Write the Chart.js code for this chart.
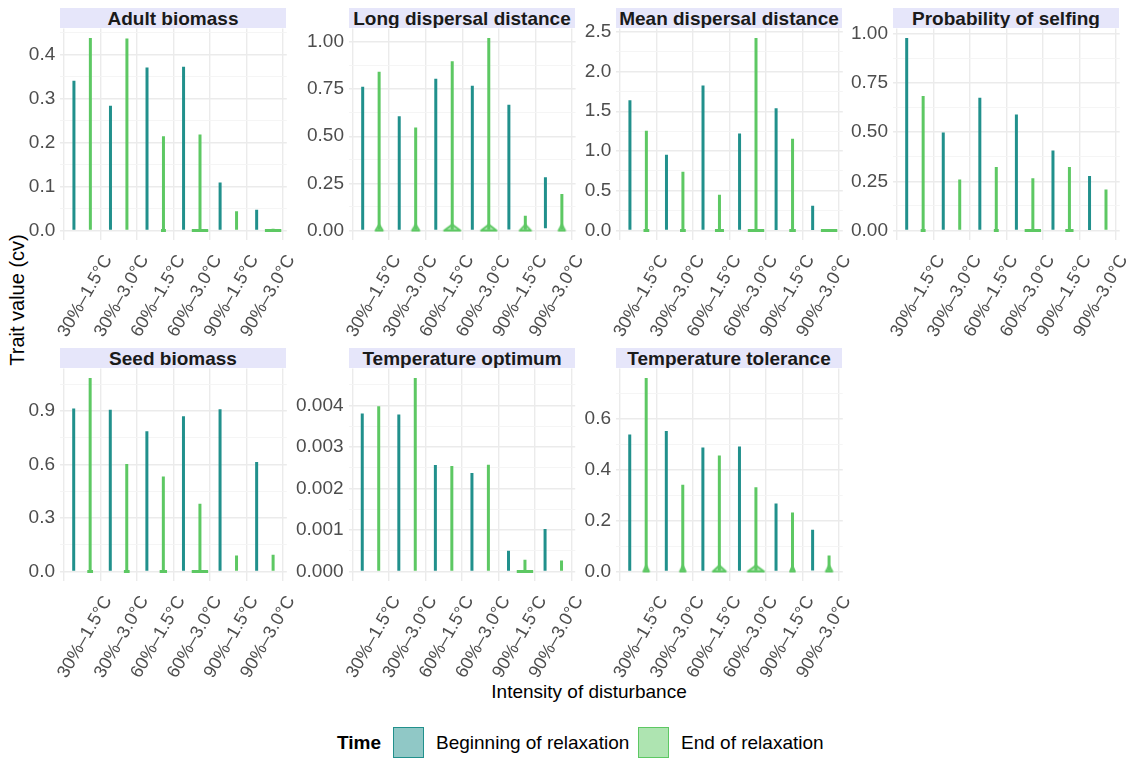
<!DOCTYPE html>
<html>
<head>
<meta charset="utf-8">
<script src="https://cdn.jsdelivr.net/npm/chart.js@4.4.1/dist/chart.umd.min.js"></script>
<style>
  html, body { margin: 0; padding: 0; background: #ffffff; }
  #fig { position: relative; width: 1130px; height: 759px; overflow: hidden;
         font-family: "Liberation Sans", Arial, sans-serif; color: #000; }
  #fig canvas { position: absolute; }
  .strip { position: absolute; height: 20px; line-height: 21px; background: #E6E6FA;
           font-weight: bold; font-size: 19px; text-align: center; color: #1A1A1A;
           white-space: nowrap; overflow: hidden; }
  .title { position: absolute; font-size: 19px; white-space: nowrap; color: #000; }
  .legend-key { position: absolute; width: 29px; height: 29px; border: 1.5px solid; }
</style>
</head>
<body>
<div id="fig">
  <div class="title" style="left:16.5px; top:299.5px; font-size:20px; transform: translate(-50%,-50%) rotate(-90deg);">Trait value (cv)</div>
  <div class="title" style="left:589px; top:692px; transform: translate(-50%,-50%);">Intensity of disturbance</div>
  <div class="title" style="left:337px; top:743px; transform: translateY(-50%); font-weight:bold;">Time</div>
  <div class="legend-key" style="left:393px; top:727px; background:#90C8C6; border-color:#21908C;"></div>
  <div class="title" style="left:436px; top:743px; transform: translateY(-50%);">Beginning of relaxation</div>
  <div class="legend-key" style="left:638px; top:727px; background:#AEE4B1; border-color:#5DC863;"></div>
  <div class="title" style="left:681px; top:743px; transform: translateY(-50%);">End of relaxation</div>
</div>
<script>
// ---- categories and series ----
const categories = ['30%–1.5°C', '30%–3.0°C', '60%–1.5°C', '60%–3.0°C', '90%–1.5°C', '90%–3.0°C'];
const seriesNames = ['Beginning of relaxation', 'End of relaxation'];

// Adult biomass
const adultBeginMax = [0.340, 0.283, 0.370, 0.372, 0.109, 0.047];
const adultBeginMin = [0, 0, 0, 0, 0, 0];
const adultEndMax   = [0.437, 0.436, 0.214, 0.218, 0.044, 0.004];
const adultEndMin   = [0, 0, 0, 0, 0, 0];
const adultEndBase  = [0, 0, 0.3, 1.0, 0, 1.0];
const adultTicks      = [0, 0.1, 0.2, 0.3, 0.4];
const adultTickLabels = ['0.0', '0.1', '0.2', '0.3', '0.4'];

// Long dispersal distance
const longBeginMax = [0.762, 0.606, 0.805, 0.768, 0.667, 0.282];
const longBeginMin = [0, 0, 0, 0, 0.005, 0.012];
const longEndMax   = [0.842, 0.546, 0.898, 1.021, 0.079, 0.194];
const longEndMin   = [0, 0, 0, 0, 0, 0];
const longEndBase  = [0.45, 0.45, 1.0, 0.95, 0.7, 0.4];
const longTicks      = [0, 0.25, 0.5, 0.75, 1.0];
const longTickLabels = ['0.00', '0.25', '0.50', '0.75', '1.00'];

// Mean dispersal distance
const meanBeginMax = [1.637, 0.954, 1.825, 1.221, 1.538, 0.313];
const meanBeginMin = [0, 0, 0, 0, 0.008, 0.008];
const meanEndMax   = [1.254, 0.738, 0.450, 2.421, 1.154, 0.020];
const meanEndMin   = [0, 0, 0, 0, 0, 0];
const meanEndBase  = [0.35, 0.35, 0.55, 1.0, 0.4, 1.0];
const meanTicks      = [0, 0.5, 1.0, 1.5, 2.0, 2.5];
const meanTickLabels = ['0.0', '0.5', '1.0', '1.5', '2.0', '2.5'];

// Probability of selfing
const selfBeginMax = [0.978, 0.498, 0.674, 0.590, 0.407, 0.277];
const selfBeginMin = [0, 0, 0, 0, 0, 0.003];
const selfEndMax   = [0.684, 0.259, 0.323, 0.266, 0.323, 0.208];
const selfEndMin   = [0, 0, 0, 0, 0, 0];
const selfEndBase  = [0.3, 0, 0.3, 1.0, 0.5, 0];
const selfTicks      = [0, 0.25, 0.5, 0.75, 1.0];
const selfTickLabels = ['0.00', '0.25', '0.50', '0.75', '1.00'];

// Seed biomass
const seedBeginMax = [0.915, 0.908, 0.788, 0.872, 0.911, 0.615];
const seedBeginMin = [0, 0, 0, 0, 0, 0];
const seedEndMax   = [1.086, 0.604, 0.533, 0.381, 0.090, 0.094];
const seedEndMin   = [0, 0, 0, 0, 0, 0];
const seedEndBase  = [0.35, 0.35, 0.45, 1.0, 0, 0];
const seedTicks      = [0, 0.3, 0.6, 0.9];
const seedTickLabels = ['0.0', '0.3', '0.6', '0.9'];

// Temperature optimum
const toptBeginMax = [0.003815, 0.003790, 0.002570, 0.002378, 0.000498, 0.001028];
const toptBeginMin = [0, 0, 0, 0, 0, 0];
const toptEndMax   = [0.003990, 0.004667, 0.002546, 0.002578, 0.000281, 0.000265];
const toptEndMin   = [0, 0, 0, 0, 0, 0];
const toptEndBase  = [0, 0, 0, 0, 1.0, 0];
const toptTicks      = [0, 0.001, 0.002, 0.003, 0.004];
const toptTickLabels = ['0.000', '0.001', '0.002', '0.003', '0.004'];

// Temperature tolerance
const ttolBeginMax = [0.539, 0.553, 0.488, 0.492, 0.268, 0.164];
const ttolBeginMin = [0, 0, 0, 0, 0, 0.004];
const ttolEndMax   = [0.761, 0.341, 0.456, 0.331, 0.232, 0.063];
const ttolEndMin   = [0, 0, 0, 0, 0, 0];
const ttolEndBase  = [0.35, 0.35, 0.8, 1.0, 0.25, 0.4];
const ttolTicks      = [0, 0.2, 0.4, 0.6];
const ttolTickLabels = ['0.0', '0.2', '0.4', '0.6'];

// ---- styling ----
const TEAL = '#21908C';
const GREEN = '#5DC863';
const GREEN_FILL = 'rgba(93,200,99,0.5)';
const TICK_COLOR = '#4D4D4D';
const DODGE = 0.225;          // half of the 0.9 dodge width
const VIOLIN_MAX_W = 0.45;    // widest violin, in category units
const FONT = '"Liberation Sans", Arial, sans-serif';

Chart.defaults.font.family = FONT;
Chart.defaults.font.size = 19;
Chart.defaults.animation = false;

const COLS = [60, 349, 616, 893];
const PANEL_W = 226;
const ROWS = [{ strip: 8, top: 28, h: 212 }, { strip: 348, top: 368, h: 213 }];

const panels = [
  { title: 'Adult biomass', r: 0, c: 0, bMax: adultBeginMax, bMin: adultBeginMin, eMax: adultEndMax, eMin: adultEndMin, eBase: adultEndBase, shape: 'flat', ticks: adultTicks, labels: adultTickLabels },
  { title: 'Long dispersal distance', r: 0, c: 1, bMax: longBeginMax, bMin: longBeginMin, eMax: longEndMax, eMin: longEndMin, eBase: longEndBase, shape: 'tri', ticks: longTicks, labels: longTickLabels },
  { title: 'Mean dispersal distance', r: 0, c: 2, bMax: meanBeginMax, bMin: meanBeginMin, eMax: meanEndMax, eMin: meanEndMin, eBase: meanEndBase, shape: 'flat', ticks: meanTicks, labels: meanTickLabels },
  { title: 'Probability of selfing', r: 0, c: 3, bMax: selfBeginMax, bMin: selfBeginMin, eMax: selfEndMax, eMin: selfEndMin, eBase: selfEndBase, shape: 'flat', ticks: selfTicks, labels: selfTickLabels },
  { title: 'Seed biomass', r: 1, c: 0, bMax: seedBeginMax, bMin: seedBeginMin, eMax: seedEndMax, eMin: seedEndMin, eBase: seedEndBase, shape: 'flat', ticks: seedTicks, labels: seedTickLabels },
  { title: 'Temperature optimum', r: 1, c: 1, bMax: toptBeginMax, bMin: toptBeginMin, eMax: toptEndMax, eMin: toptEndMin, eBase: toptEndBase, shape: 'flat', ticks: toptTicks, labels: toptTickLabels },
  { title: 'Temperature tolerance', r: 1, c: 2, bMax: ttolBeginMax, bMin: ttolBeginMin, eMax: ttolEndMax, eMin: ttolEndMin, eBase: ttolEndBase, shape: 'tri', ticks: ttolTicks, labels: ttolTickLabels }
];

// triangular foot of a violin: apex up, base on the point's centre line
const triCache = {};
function triangleStyle(wpx, hpx) {
  const key = wpx.toFixed(1) + '_' + hpx;
  if (triCache[key]) return triCache[key];
  const c = document.createElement('canvas');
  const W = Math.ceil(wpx) + 4, H = 2 * (hpx + 2);
  c.width = W; c.height = H;
  const g = c.getContext('2d');
  const cx = W / 2, base = H / 2;
  g.beginPath();
  g.moveTo(cx - wpx / 2, base);
  g.lineTo(cx, base - hpx);
  g.lineTo(cx + wpx / 2, base);
  g.closePath();
  g.fillStyle = GREEN_FILL; g.fill();
  g.lineWidth = 1.8; g.strokeStyle = GREEN; g.lineJoin = 'round'; g.stroke();
  triCache[key] = c;
  return c;
}

function buildConfig(p) {
  const all = p.bMax.concat(p.eMax);
  const lows = p.bMin.concat(p.eMin, [0]);
  const lo = Math.min(...lows), hi = Math.max(...all);
  const span = hi - lo;
  const yMin = lo - 0.05 * span, yMax = hi + 0.05 * span;
  const step = p.ticks[1] - p.ticks[0];
  const minor = [];
  for (let k = -1; k <= p.ticks.length; k++) {
    const v = +(p.ticks[0] + (k + 0.5) * step).toPrecision(10);
    if (v >= yMin && v <= yMax) minor.push(v);
  }
  const majorSet = p.ticks.map(v => +v.toPrecision(10));
  const isMajor = v => majorSet.some(m => Math.abs(m - v) < step * 1e-6);
  const unitPx = PANEL_W / 6.2;

  const bars = (maxs, mins, off, color, name) => ({
    type: 'bar', label: name, grouped: false,
    data: maxs.map((v, i) => ({ x: i + 1 + off, y: [mins[i], v] })),
    backgroundColor: color, borderWidth: 0, maxBarThickness: 3, order: 1
  });

  const base = {
    type: 'line', label: 'base', showLine: false, order: 0,
    data: p.eBase.map((w, i) => ({ x: i + 1 + DODGE, y: 0 })),
    pointRadius: ctx => {
      const w = p.eBase[ctx.dataIndex];
      return w > 0 ? Math.max(2, w * VIOLIN_MAX_W * unitPx / 2) : 0;
    },
    pointStyle: ctx => {
      const w = p.eBase[ctx.dataIndex];
      if (p.shape === 'tri' && w > 0) return triangleStyle(Math.max(5, w * VIOLIN_MAX_W * unitPx), 6);
      return 'line';
    },
    pointBorderColor: GREEN, pointBackgroundColor: GREEN, pointBorderWidth: 3,
    pointHoverRadius: 0
  };

  return {
    type: 'bar',
    data: { datasets: [bars(p.bMax, p.bMin, -DODGE, TEAL, seriesNames[0]), bars(p.eMax, p.eMin, DODGE, GREEN, seriesNames[1]), base] },
    options: {
      responsive: false, animation: false,
      layout: { padding: 0 },
      plugins: { legend: { display: false }, tooltip: { enabled: false } },
      scales: {
        x: {
          type: 'linear', min: 0.4, max: 6.6, offset: false,
          afterBuildTicks: s => { s.ticks = categories.map((_, i) => ({ value: i + 1 })); },
          ticks: { autoSkip: false, minRotation: 60, maxRotation: 60, padding: 11, labelOffset: 26,
                   color: TICK_COLOR, font: { size: 18 }, callback: v => categories[Math.round(v) - 1] },
          grid: { color: '#EBEBEB', lineWidth: 1.4, drawTicks: false },
          border: { display: false }
        },
        y: {
          type: 'linear', min: yMin, max: yMax,
          afterBuildTicks: s => { s.ticks = majorSet.concat(minor).sort((a, b) => a - b).map(v => ({ value: v })); },
          ticks: { autoSkip: false, padding: 5, color: TICK_COLOR, font: { size: 19 },
                   callback: v => { const i = majorSet.findIndex(m => Math.abs(m - v) < step * 1e-6); return i >= 0 ? p.labels[i] : ''; } },
          grid: { drawTicks: false,
                  color: ctx => isMajor(ctx.tick.value) ? '#EBEBEB' : '#F4F4F4',
                  lineWidth: ctx => isMajor(ctx.tick.value) ? 1.4 : 0.9 },
          border: { display: false }
        }
      }
    }
  };
}

const fig = document.getElementById('fig');

function mountPanel(p) {
  const row = ROWS[p.r];
  const box = { left: COLS[p.c], top: row.top, width: PANEL_W, height: row.h };

  const strip = document.createElement('div');
  strip.className = 'strip';
  strip.style.left = box.left + 'px';
  strip.style.top = row.strip + 'px';
  strip.style.width = box.width + 'px';
  strip.textContent = p.title;
  fig.appendChild(strip);

  const canvas = document.createElement('canvas');
  fig.appendChild(canvas);
  let W = Math.round(box.width + 110), H = Math.round(box.height + 150);
  let chart = null;
  const PASSES = 6;
  for (let pass = 0; pass < PASSES; pass++) {
    canvas.width = W; canvas.height = H;
    canvas.style.width = W + 'px'; canvas.style.height = H + 'px';
    chart = new Chart(canvas, buildConfig(p));
    const a = chart.chartArea;
    const dw = box.width - (a.right - a.left);
    const dh = box.height - (a.bottom - a.top);
    if ((Math.abs(dw) <= 1 && Math.abs(dh) <= 1) || pass === PASSES - 1) break;
    chart.destroy();
    W = Math.max(50, Math.round(W + dw)); H = Math.max(50, Math.round(H + dh));
  }
  const a = chart.chartArea;
  canvas.style.left = Math.round(box.left - a.left) + 'px';
  canvas.style.top = Math.round(box.top - a.top) + 'px';
}

panels.forEach(mountPanel);
</script>
</body>
</html>
